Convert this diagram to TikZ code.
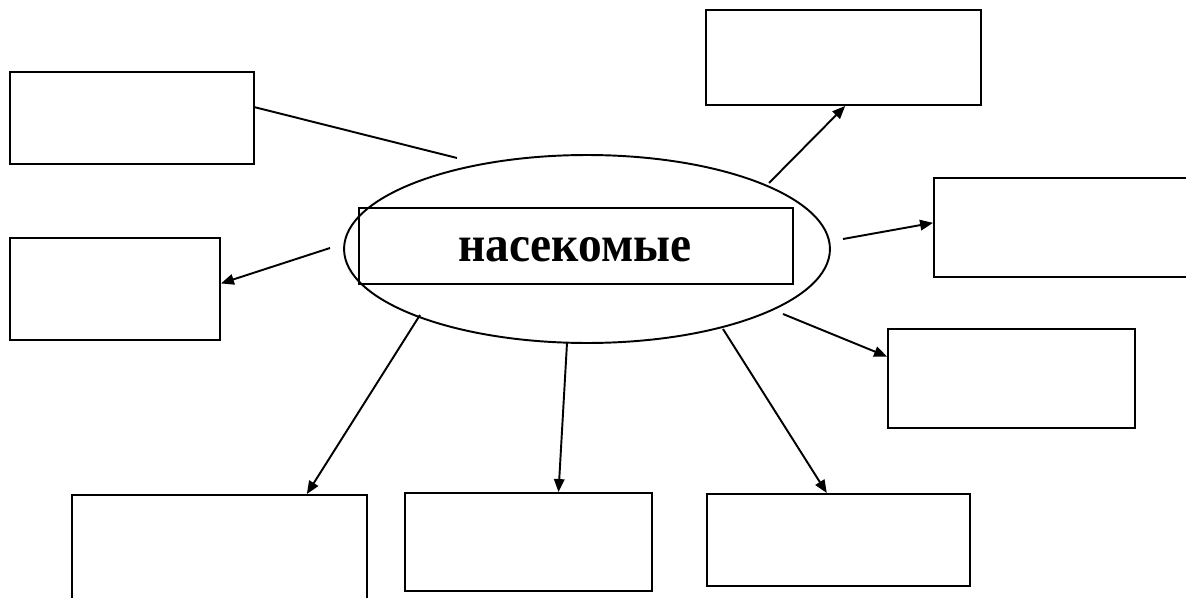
\documentclass[tikz,border=0pt]{standalone}
\usepackage{fontspec}
\setmainfont{Liberation Serif}
\newfontfamily\uzkij[FakeStretch=0.93]{Liberation Serif}
\usepackage{tikz}
\usetikzlibrary{shapes,positioning,calc}
\usetikzlibrary{shapes.geometric}
\usetikzlibrary{arrows.meta}
\tikzstyle{ramka} = [rectangle, inner sep=0pt, draw=black, line width=1.1pt]
\tikzstyle{oval} = [ellipse, inner sep=0pt, minimum width=9.72cm, minimum height=3.76cm, draw=black, line width=1.1pt]
\tikzstyle{arrow} = [line width=1.1pt,-{Triangle[length=2.6mm,width=2.1mm]}]
\begin{document}
\begin{tikzpicture}[x=0.02cm,y=-0.02cm]
\clip (0,0) rectangle (1186,598);
\fill[white] (0,0) rectangle (1186,598);
\node (ov) at (587,249) [oval] {};
\node (naz) at (576,246) [ramka, minimum width=8.68cm, minimum height=1.52cm] {};
\node (slovo) at (575,250) {\uzkij\bfseries\fontsize{29}{34}\selectfont насекомые};
\node (b1) at (132,118) [ramka, minimum width=4.88cm, minimum height=1.84cm] {};
\node (b2) at (115,289) [ramka, minimum width=4.2cm, minimum height=2.04cm] {};
\node (b3) at (843.5,57.5) [ramka, minimum width=5.5cm, minimum height=1.9cm] {};
\node (b4) at (1067,227.5) [ramka, minimum width=5.32cm, minimum height=1.98cm] {};
\node (b5) at (1011.5,378.5) [ramka, minimum width=4.94cm, minimum height=1.98cm] {};
\node (b6) at (219.5,557.5) [ramka, minimum width=5.9cm, minimum height=2.5cm] {};
\node (b7) at (528.5,542) [ramka, minimum width=4.94cm, minimum height=1.96cm] {};
\node (b8) at (838.5,540) [ramka, minimum width=5.26cm, minimum height=1.84cm] {};
% starts near the oval
\coordinate (s1) at (457,158);
\coordinate (s2) at (330,248);
\coordinate (s3) at (769,183);
\coordinate (s4) at (843,239);
\coordinate (s5) at (783,314);
\coordinate (s6) at (420,315);
\coordinate (s7) at (567,343);
\coordinate (s8) at (723,329);
\draw[line width=1.1pt] (s1) -- (b1.5.6);
\draw[arrow] (s2) -- (b2.3.3);
\draw[arrow] (s3) -- (b3.-88.2);
\draw[arrow] (s4) -- (b4.178.1);
\draw[arrow] (s5) -- (b5.170.6);
\draw[arrow] (s6) -- (b6.36.8);
\draw[arrow] (s7) -- (b7.59.8);
\draw[arrow] (s8) -- (b8.104);
\end{tikzpicture}
\end{document}
